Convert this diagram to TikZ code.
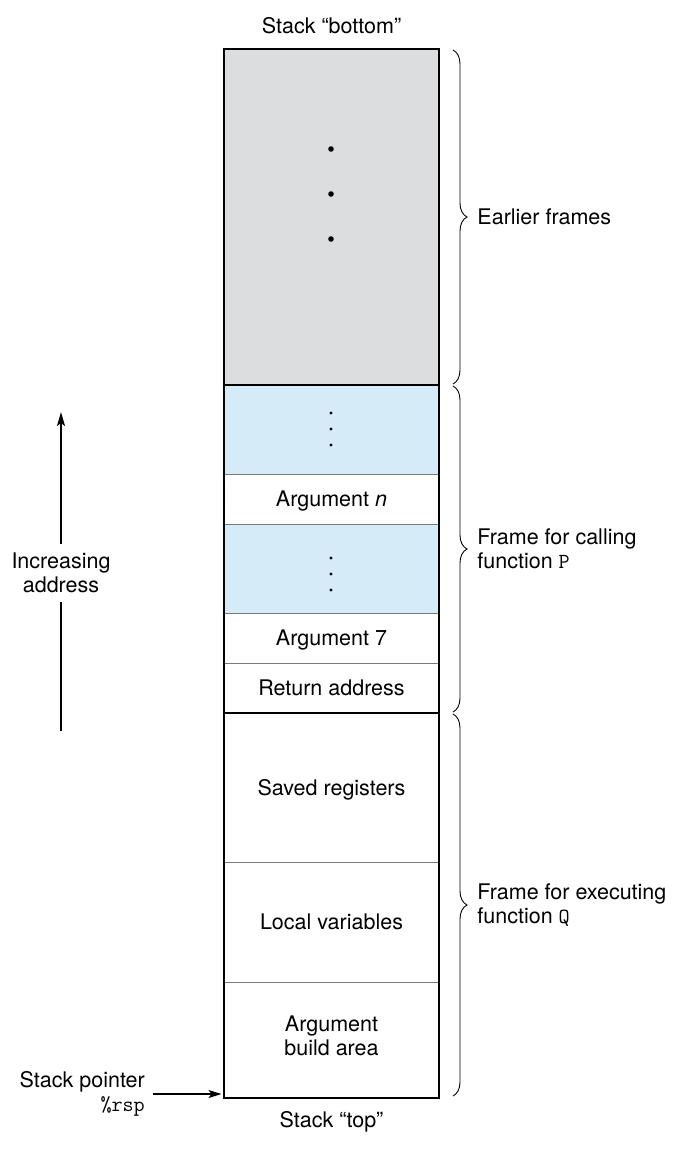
\documentclass[tikz,border=0pt]{standalone}
\usepackage{fontspec}
\setmainfont{TeX Gyre Heros}
\setmonofont{Latin Modern Mono}
\usetikzlibrary{arrows.meta,decorations.pathreplacing,positioning}

\definecolor{oldgray}{HTML}{DCDDDF}
\definecolor{gapblue}{HTML}{D5ECF8}
\definecolor{rulegray}{HTML}{7A7A7A}

\tikzset{
  cell/.style = {draw=rulegray, line width=0.8pt, minimum width=215pt, inner sep=0pt, outer sep=0pt, align=center, anchor=north, text depth=0pt},
  thickrule/.style = {line width=2.6pt},
  brace/.style = {decorate, decoration={brace, amplitude=14pt}, line width=0.9pt},
  note/.style = {inner sep=0pt, align=left}
}

\begin{document}
\begin{tikzpicture}[x=1pt, y=-1pt, font=\fontsize{21.5}{24}\selectfont]
\useasboundingbox (0,0) rectangle (691,1151);
% the stack, from its bottom down to its top
\node [cell, fill=oldgray, minimum height=336pt] (earlier) at (331.5,49) {};
\node [cell, fill=gapblue, minimum height=89pt, below=0pt of earlier] (moreargs) {};
\node [cell, minimum height=50pt, below=0pt of moreargs] (argn) {Argument \textit{n}};
\node [cell, fill=gapblue, minimum height=89pt, below=0pt of argn] (midargs) {};
\node [cell, minimum height=50pt, below=0pt of midargs] (argseven) {Argument 7};
\node [cell, minimum height=50pt, below=0pt of argseven] (retaddr) {Return address};
\node [cell, minimum height=149pt, below=0pt of retaddr] (savedregs) {Saved registers};
\node [cell, minimum height=120pt, below=0pt of savedregs] (locals) {Local variables};
\node [cell, minimum height=116pt, below=0pt of locals, text depth=9pt] (buildarea) {Argument\\build area};
\draw [thickrule] (earlier.north west) rectangle (buildarea.south east);
\draw [thickrule] (earlier.south west) -- (earlier.south east);
\draw [thickrule] (retaddr.south west) -- (retaddr.south east);
% dots
\foreach \y in {149,194,239} \fill (331,\y) circle [radius=2.8pt];
\foreach \y in {413,429,445,558,574,590} \fill (331,\y) circle [radius=1.6pt];

\node [above=15pt of earlier, inner sep=0pt] (bottomlbl) {Stack “bottom”};
\node [below=13pt of buildarea, inner sep=0pt] (toplbl) {Stack “top”};

% braces
\draw [brace] ([xshift=14pt,yshift=-1pt]earlier.north east) -- ([xshift=14pt,yshift=1pt]earlier.south east)
  node [note, midway, right=24pt] (earlierlbl) {Earlier frames};
\draw [brace] ([xshift=14pt,yshift=-1pt]moreargs.north east) -- ([xshift=14pt,yshift=1pt]retaddr.south east)
  node [note, midway, right=24pt] (callerlbl) {Frame for calling\\function \texttt{P}};
\draw [brace] ([xshift=14pt,yshift=-1pt]savedregs.north east) -- ([xshift=14pt,yshift=2pt]buildarea.south east)
  node [note, midway, right=24pt] (calleelbl) {Frame for executing\\function \texttt{Q}};

% address direction
\node [align=center, inner sep=9pt] (incr) at (61,573) {Increasing\\address};
\coordinate (lowaddr) at (61,731);
\coordinate (highaddr) at (61,412);
\draw [line width=2pt] (lowaddr) -- (incr);
\draw [line width=2pt, -{Stealth[length=14pt,width=8pt,inset=3pt]}] (incr) -- (highaddr);

% stack pointer
\node [align=right, inner sep=0pt, anchor=east] (sptr) at (145,1094) {Stack pointer\\\texttt{\%rsp}};
\draw [line width=1.3pt, -{Stealth[length=13pt,width=8pt,inset=3pt]}, shorten >=2.5pt]
  ([xshift=8pt]sptr.east) -- (sptr.east -| buildarea.west);
\end{tikzpicture}
\end{document}
